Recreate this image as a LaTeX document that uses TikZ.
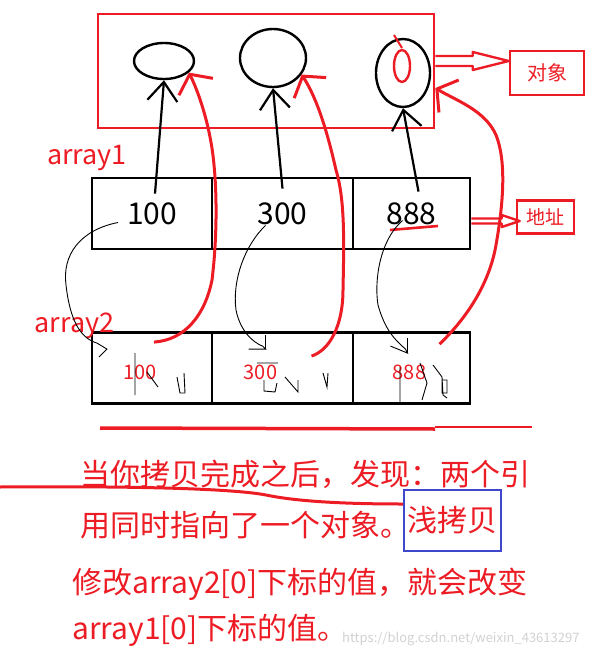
\documentclass[tikz,border=0pt]{standalone}
\usepackage{fontspec}
\setmainfont{Noto Sans CJK SC}
\usetikzlibrary{arrows.meta}
\usetikzlibrary{calc}
\usetikzlibrary{shapes.geometric}
\definecolor{pred}{RGB}{237,28,36}
\definecolor{pblue}{RGB}{63,72,204}
\newcommand{\drawhollow}[5]{
	\draw[hollow] (#1 |- #2) ++(0,-#4) -- ($(#2)+(-#3,-#4)$) -- ($(#2)+(-#3,-#5)$) -- (#2) -- ($(#2)+(-#3,#5)$) -- ($(#2)+(-#3,#4)$) -- ($(#1 |- #2)+(0,#4)$);
}

\begin{document}
\begin{tikzpicture}[x=1pt,y=-1pt,
	cell/.style={shape=rectangle,draw,line width=2.8pt,minimum height=71pt,inner sep=0pt,font=\fontsize{30}{30}\selectfont},
	obj/.style={shape=ellipse,draw,line width=2.4pt,inner sep=0pt},
	redbox/.style={shape=rectangle,draw=pred,line width=2.6pt,inner sep=0pt,text=pred},
	ptr/.style={line width=2.2pt,-{Straight Barb[length=19pt,width=30pt]}},
	redptr/.style={pred,line width=3pt,-{Straight Barb[length=14pt,width=38pt]}},
	copyline/.style={line width=0.9pt},
	hollow/.style={draw=pred,line width=2.4pt,line join=round},
	redtext/.style={text=pred,inner sep=0pt,font=\fontsize{30}{30}\selectfont}]
\useasboundingbox (0,0) rectangle (597,661);
\node[redbox,minimum width=336pt,minimum height=114pt] (objs) at (266,71) {};
\node[obj,minimum width=60pt,minimum height=36pt] (o1) at (164,61) {};
\node[obj,minimum width=66pt,minimum height=58pt] (o2) at (273,58) {};
\node[obj,minimum width=54pt,minimum height=68pt] (o3) at (403,73) {};
\draw[pred,line width=2.4pt] (402,66) ellipse [x radius=8pt,y radius=16pt];
\draw[pred,line width=2pt] (394,35) -- (402,48);
\foreach \x/\w/\v/\dx [count=\i] in {152/120/100/-12, 282.5/141/300/-22, 411.5/117/888/-2} {
	\node[cell,minimum width=\w pt] (a\i) at (\x,213.5) {\v};
	\node[cell,minimum width=\w pt] (b\i) at (\x,368) {};
	\node[text=pred,inner sep=0pt,font=\fontsize{20}{20}\selectfont] (v\i) at ([xshift=\dx pt,yshift=-4pt]b\i.center) {\v};
}
\draw[pred,line width=2.6pt] (390,230) -- (438,226);
\node[redtext,font=\fontsize{27}{27}\selectfont] (lbl1) at (87,158) {array1};
\node[redtext,font=\fontsize{27}{27}\selectfont] (lbl2) at (74.5,326) {array2};
\node[redbox,minimum width=74pt,minimum height=44pt,font=\fontsize{20}{20}\selectfont] (lblobj) at (547,73) {对象};
\node[redbox,minimum width=57pt,minimum height=33pt,font=\fontsize{19}{19}\selectfont] (lbladdr) at (545.5,217) {地址};
\coordinate (tipobj) at ([yshift=12pt]lblobj.west);
\coordinate (tipaddr) at ([xshift=4pt,yshift=-4pt]lbladdr.west);
\drawhollow{objs.east}{tipobj}{36}{5}{9}
\drawhollow{a3.east}{tipaddr}{18}{2.5}{6}
\draw[ptr] ([xshift=3pt,yshift=-17pt]a1.north) -- (o1.south);
\draw[ptr] ([yshift=-12pt]a2.north) -- (o2.south);
\draw[ptr] ([xshift=7pt,yshift=-15pt]a3.north) -- (o3.south);
\draw[redptr] ([xshift=2pt,yshift=-11pt]b1.north) .. controls (185,340) and (205,315) .. (212,280) .. controls (217,240) and (217,195) .. (214,165) .. controls (211,130) and (200,95) .. (o1.-25);
\draw[redptr] ([xshift=29pt,yshift=-25pt]b2.north) .. controls (330,350) and (343,325) .. (343,290) .. controls (344,240) and (345,200) .. (336,170) .. controls (328,135) and (318,100) .. (o2.-30);
\coordinate (hook3) at ([yshift=-17pt]objs.east);
\draw[redptr] ([xshift=28pt,yshift=-13pt]b3.north) .. controls (470,315) and (490,280) .. (496,245) .. controls (504,200) and (506,160) .. (496,135) .. controls (485,110) and (455,100) .. (hook3);
\draw[copyline] ([xshift=-34pt,yshift=-9pt]a1.center) .. controls (80,230) and (62,255) .. (66,285) .. controls (70,320) and (80,338) .. ([xshift=-55pt,yshift=-12pt]b1.north) -- ++(10,6) -- ++(-8,8);
\draw[copyline] ([xshift=-17pt,yshift=-12pt]a2.center) .. controls (245,245) and (232,280) .. (236,310) .. controls (240,330) and (252,342) .. ([xshift=-20pt,yshift=-15pt]b2.north) -- ++(3,3) -- ++(-17,0) ++(17,0) -- ++(0,-14);
\draw[copyline] ([xshift=-9pt,yshift=-7pt]a3.center) .. controls (380,240) and (374,280) .. (378,305) .. controls (385,330) and (395,340) .. ([xshift=-6pt,yshift=-18pt]b3.north) -- ++(2,4) -- ++(-17,-7) ++(17,7) -- ++(0,-15);
\draw[copyline] (135,353) -- (135,395) (147,372) -- (158,387) (177,377) -- (180,393) -- (185,393) -- (184,373);
\draw[copyline] (257,363) -- (278,363) (264,380) -- (264,391) -- (275,392) -- (277,383) (285,377) -- (298,392) -- (298,380) (323,373) -- (327,387) -- (328,373);
\draw[copyline] (400,367) -- (400,402) (420,363) -- (427,383) -- (422,400) (433,365) -- (442,377) -- (443,395) -- (447,398) (442,380) rectangle (447,393);
\draw[pred,line width=3.5pt] (100,428) -- (435,429);
\draw[pred,line width=2pt] (435,426.5) -- (532,426.5);
\draw[pred,line width=3pt] (0,487) .. controls (120,486) and (230,488) .. (266,495) .. controls (290,500) and (330,504) .. (403,504);
\node[redtext,anchor=west] (t1) at (80,474) {当你拷贝完成之后，发现：两个引};
\node[redtext,anchor=west] (t2) at (80,525) {用同时指向了一个对象。};
\node[redtext,draw=pblue,line width=2.5pt,minimum width=97pt,minimum height=61pt] (shallow) at (452.5,520.5) {浅拷贝};
\node[redtext,anchor=west] (t3) at (72,584) {修改array2[0]下标的值，就会改变};
\node[redtext,anchor=west] (t4) at (72,630) {array1[0]下标的值。};
\node[anchor=west,text=black!18,inner sep=0pt,font=\fontsize{13}{13}\selectfont] (mark) at (342,639) {https://blog.csdn.net/weixin\_43613297};
\end{tikzpicture}
\end{document}
